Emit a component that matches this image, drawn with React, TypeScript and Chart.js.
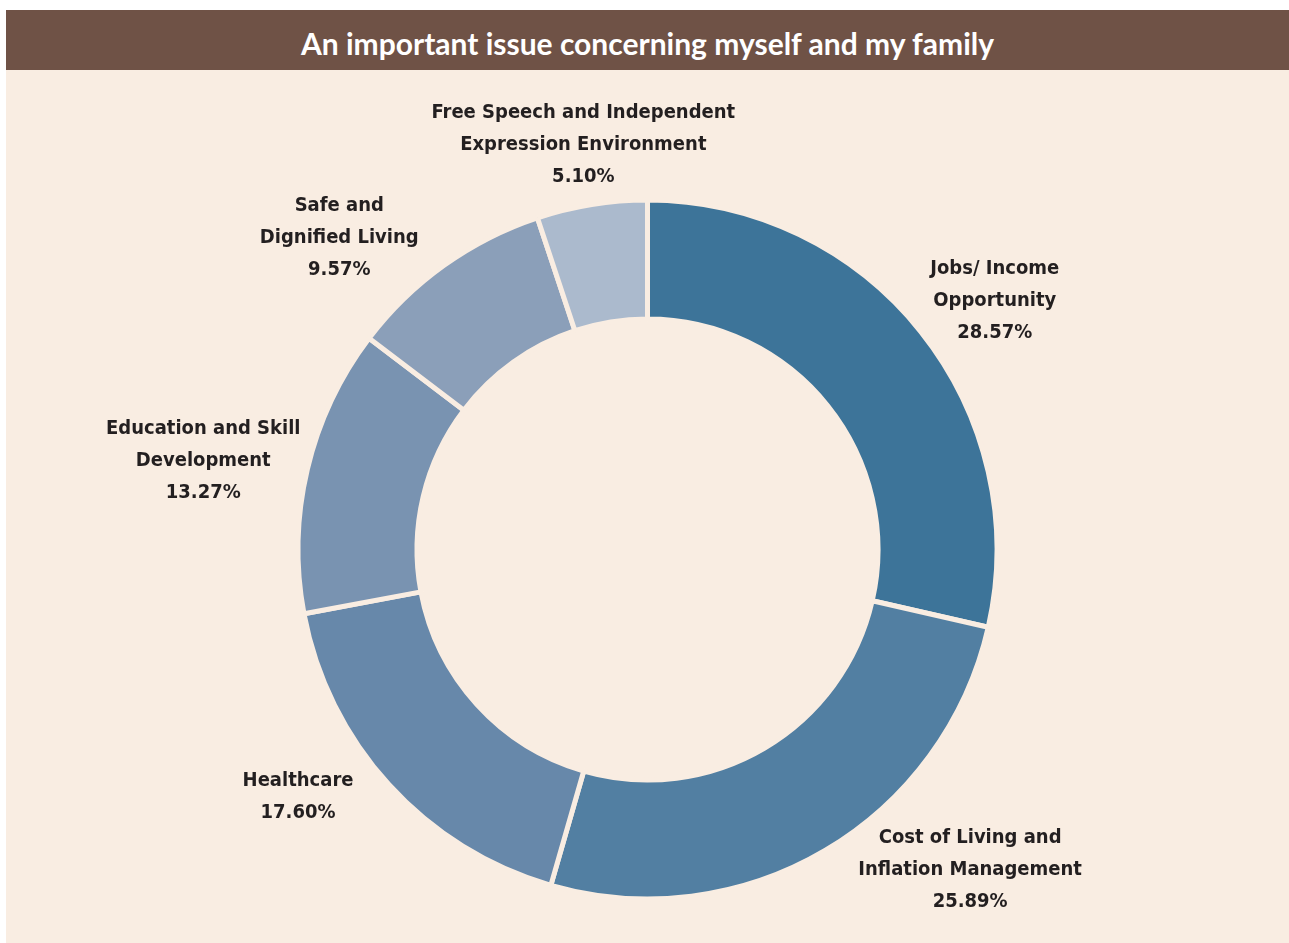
import React, { useEffect, useRef } from "react";
import { Chart, registerables } from "chart.js";

Chart.register(...registerables);

const TITLE = "An important issue concerning myself and my family";
const CATEGORIES: string[][] = [
  ["Jobs/ Income", "Opportunity"],
  ["Cost of Living and", "Inflation Management"],
  ["Healthcare"],
  ["Education and Skill", "Development"],
  ["Safe and", "Dignified Living"],
  ["Free Speech and Independent", "Expression Environment"],
];
const VALUES = [28.57, 25.89, 17.6, 13.27, 9.57, 5.1];
const COLORS = ["#3D7499", "#527FA2", "#6788AA", "#7993B1", "#8B9FB9", "#ABBACD"];

const BG = "#F9EDE2";
const LABEL_NUDGES: number[][] = [
  [8, 12],
  [78, -39],
  [-35, -23],
  [10, 7],
  [-47, 28],
  [19, 7],
];

const outerLabels = {
  id: "outerLabels",
  afterDatasetsDraw(chart: any, _args: any, opts: any) {
    const ctx = chart.ctx;
    const meta = chart.getDatasetMeta(0);
    const ds = chart.data.datasets[0];
    ctx.save();
    ctx.font = opts.font;
    ctx.fillStyle = opts.color;
    ctx.textAlign = "center";
    ctx.textBaseline = "middle";
    meta.data.forEach((arc: any, i: number) => {
      const { x, y, startAngle, endAngle, outerRadius } = arc.getProps(
        ["x", "y", "startAngle", "endAngle", "outerRadius"],
        true
      );
      const mid = (startAngle + endAngle) / 2;
      const lines = [...chart.data.labels[i], Number(ds.data[i]).toFixed(2) + "%"];
      const w = Math.max(...lines.map((l: string) => ctx.measureText(l).width));
      const lh = opts.lineHeight;
      const h = lines.length * lh;
      const r = outerRadius + opts.gap;
      const cos = Math.cos(mid);
      const sin = Math.sin(mid);
      const nudge = opts.nudges[i] || [0, 0];
      const cx = x + r * cos + (w / 2) * cos + nudge[0];
      const cy = y + r * sin + (h / 2) * sin + nudge[1];
      lines.forEach((line: string, j: number) => {
        ctx.fillText(line, cx, cy - h / 2 + lh * (j + 0.5));
      });
    });
    ctx.restore();
  },
};

export default function App() {
  const canvasRef = useRef<HTMLCanvasElement | null>(null);

  useEffect(() => {
    if (!canvasRef.current) return;
    const chart = new Chart(canvasRef.current, {
      type: "doughnut",
      data: {
        labels: CATEGORIES as any,
        datasets: [
          {
            data: VALUES,
            backgroundColor: COLORS,
            borderColor: BG,
            borderWidth: 5,
            hoverOffset: 0,
          },
        ],
      },
      options: {
        responsive: false,
        animation: false,
        radius: 349.5,
        cutout: "65.95%",
        layout: { padding: { top: 86, bottom: 0, left: 0, right: 0 } },
        plugins: {
          legend: { display: false },
          tooltip: { enabled: false },
          outerLabels: {
            font: "bold 20px 'DejaVu Sans Condensed', 'DejaVu Sans', sans-serif",
            color: "#231F20",
            lineHeight: 32,
            gap: 20,
            nudges: LABEL_NUDGES,
          },
        } as any,
      },
      plugins: [outerLabels],
    });
    return () => chart.destroy();
  }, []);

  return (
    <div style={{ position: "absolute", left: 6, top: 10, width: 1283, height: 933 }}>
      <div
        style={{
          height: 60,
          boxSizing: "border-box",
          paddingTop: 6,
          background: "#6F5246",
          color: "#FFFFFF",
          fontFamily: "Lato, 'Open Sans', sans-serif",
          fontWeight: 700,
          fontSize: 30,
          display: "flex",
          alignItems: "center",
          justifyContent: "center",
        }}
      >
        {TITLE}
      </div>
      <div style={{ height: 873, background: BG }}>
        <canvas ref={canvasRef} width={1283} height={873} style={{ display: "block" }} />
      </div>
    </div>
  );
}
